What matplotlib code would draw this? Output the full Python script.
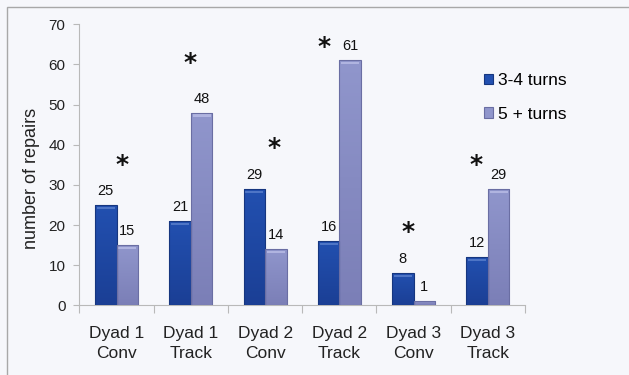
import numpy as np
import matplotlib
matplotlib.use('Agg')
import matplotlib.pyplot as plt
from matplotlib.patches import Rectangle
from matplotlib.colors import to_rgb

# === Data ===
categories = ['Dyad 1\nConv', 'Dyad 1\nTrack', 'Dyad 2\nConv',
              'Dyad 2\nTrack', 'Dyad 3\nConv', 'Dyad 3\nTrack']
short_turns = [25, 21, 29, 16, 8, 12]      # 3-4 turns
long_turns = [15, 48, 14, 61, 1, 29]       # 5 + turns
series_names = ['3-4 turns', '5 + turns']

# significance stars: offset from group centre, height in repairs
star_offset = [0.08, -0.015, 0.12, -0.21, -0.07, -0.16]
star_height = [36.0, 61.3, 40.3, 65.3, 19.4, 36.0]

# === Style ===
plt.rcParams['font.family'] = ['Liberation Sans', 'DejaVu Sans']
bg = '#f6f7fb'
# (top colour, bottom colour, edge, highlight)
dark_style = ('#2250b0', '#1b3f95', '#16367f', '#5a7fcc')
light_style = ('#9096cc', '#7b7fb7', '#6a6ea3', '#b9bde6')
grid_grey = '#b9b9b9'


def shade_bars(ax, bars, style):
    top, bottom, edge, hi = style
    t, b = np.array(to_rgb(top)), np.array(to_rgb(bottom))
    grad = np.linspace(0, 1, 64)[:, None, None]
    img = t * (1 - grad) + b * grad
    for rect in bars:
        x0, w, h = rect.get_x(), rect.get_width(), rect.get_height()
        im = ax.imshow(img, extent=(x0, x0 + w, 0, h), aspect='auto',
                       origin='upper', zorder=3, interpolation='bilinear')
        im.set_clip_path(rect)
        rect.set_facecolor('none')
        rect.set_edgecolor(edge)
        rect.set_zorder(4)
        # thin light band just under the bar top
        if h > 1.5:
            ax.add_patch(Rectangle((x0 + w * 0.08, h - 1.0), w * 0.84, 0.55,
                                   facecolor=hi, edgecolor='none',
                                   alpha=0.8, zorder=3.5))


fig = plt.figure(figsize=(6.29, 3.75), dpi=100, facecolor=bg)
# outer frame (only top and left edges fall inside the canvas)
fig.patches.append(Rectangle((7 / 629, -0.2), 1.2, 1.2 - 7 / 375,
                             transform=fig.transFigure, fill=False,
                             edgecolor='#a8a8a8', linewidth=1.0))

ax = fig.add_axes([79.4 / 629, 69.7 / 375, 445.6 / 629, 281.0 / 375])
ax.set_facecolor(bg)

x = np.arange(len(categories))
w = 0.29
b1 = ax.bar(x - w / 2, short_turns, w, color=dark_style[0],
            linewidth=0.8, label=series_names[0], zorder=3)
b2 = ax.bar(x + w / 2, long_turns, w, color=light_style[0],
            linewidth=0.8, label=series_names[1], zorder=3)

# legend handles keep the flat fill, so build the legend before shading
leg = ax.legend(loc='upper left', bbox_to_anchor=(0.892, 0.85), frameon=False,
                fontsize=12.5, handlelength=0.55, handleheight=0.55,
                handletextpad=0.25, labelspacing=1.05, borderaxespad=0)
for patch, st in zip(leg.get_patches(), [dark_style, light_style]):
    patch.set_edgecolor(st[2])

shade_bars(ax, b1, dark_style)
shade_bars(ax, b2, light_style)

# value labels above each bar
for bars, vals in [(b1, short_turns), (b2, long_turns)]:
    for rect, v in zip(bars, vals):
        ax.annotate(str(v), (rect.get_x() + rect.get_width() / 2, v),
                    xytext=(0, 5), textcoords='offset points',
                    ha='center', va='bottom', fontsize=10.5, color='#111111')

# the asterisk glyph sits high in its box, so nudge it down a little
for xi, off, h in zip(x, star_offset, star_height):
    ax.annotate('*', (xi + off, h), xytext=(0, -3), textcoords='offset points',
                ha='center', va='center', fontsize=18, fontweight='bold',
                color='#111111', family='DejaVu Sans')

# === Axes ===
ax.set_xlim(-0.5, len(categories) - 0.5)
ax.set_ylim(0, 70)
ax.set_yticks(range(0, 71, 10))
ax.set_xticks(np.arange(len(categories) + 1) - 0.5)
ax.set_xticklabels([])
ax.tick_params(axis='y', length=4, width=0.8, color=grid_grey, pad=6,
               labelsize=11, labelcolor='#222222')
ax.tick_params(axis='x', length=6, width=0.8, color=grid_grey)
for xi, lab in zip(x, categories):
    ax.text(xi, -5.2, lab, ha='center', va='top', fontsize=12.5,
            linespacing=1.4, color='#222222')

for s in ['top', 'right']:
    ax.spines[s].set_visible(False)
for s in ['left', 'bottom']:
    ax.spines[s].set_color(grid_grey)
    ax.spines[s].set_linewidth(0.8)

ax.set_ylabel('number of repairs', fontsize=13, color='#222222')
ax.yaxis.set_label_coords(-0.088, 0.45)

plt.savefig('out.png', dpi=100, facecolor=bg)
